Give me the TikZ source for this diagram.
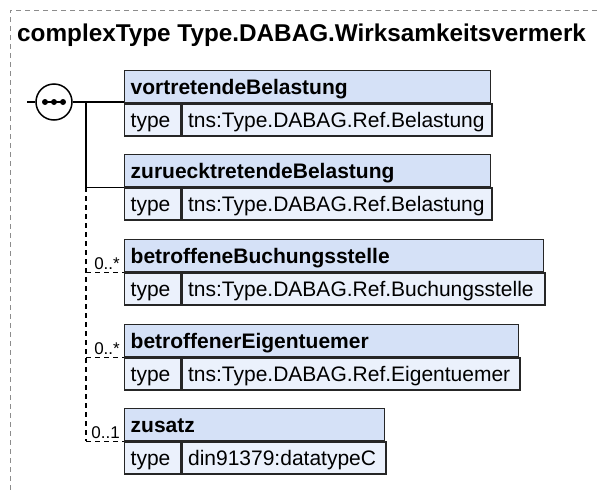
\documentclass[tikz,border=0pt]{standalone}
\usepackage{fontspec}
\setmainfont{Liberation Sans}
\usetikzlibrary{positioning}

\definecolor{hdrblue}{HTML}{D5E1F7}
\definecolor{rowblue}{HTML}{EBF1FC}
\definecolor{framegray}{HTML}{8C8C8C}

\begin{document}
\begin{tikzpicture}[x=1pt, y=-1pt,
  cell/.style={draw=black!85, line width=1.4pt, anchor=north west, minimum height=32pt,
    inner xsep=6pt, inner ysep=0pt, align=left, text height=15pt, text depth=0pt},
  hdr/.style={cell, fill=hdrblue, font=\fontsize{21}{24}\selectfont\bfseries},
  row/.style={cell, fill=rowblue, font=\fontsize{21}{24}\selectfont},
  link/.style={line width=1.5pt},
  opt/.style={line width=1.5pt, dash pattern=on 5pt off 4pt},
  mult/.style={anchor=south east, inner sep=1pt, font=\fontsize{17}{19}\selectfont}]
  \useasboundingbox (0,0) rectangle (597,490);

  % Rahmen
  \draw[framegray, line width=0.8pt, dash pattern=on 5pt off 4pt] (597,10) -- (10,10) -- (10,490);

  % Titel
  \node[anchor=base west, inner sep=0pt, font=\fontsize{24.3}{28}\selectfont\bfseries] (title) at (17,41)
    {complexType Type.DABAG.Wirksamkeitsvermerk};

  % Elemente
  \node[hdr, text width=354pt] (vort) at (124,70) {vortretendeBelastung};
  \node[row, text width=44pt] (vort-t) at (vort.south west) {type};
  \node[row, text width=298pt] (vort-v) at (vort-t.north east) {tns:Type.DABAG.Ref.Belastung};

  \node[hdr, text width=354pt] (zur) at (124,154) {zuruecktretendeBelastung};
  \node[row, text width=44pt] (zur-t) at (zur.south west) {type};
  \node[row, text width=298pt] (zur-v) at (zur-t.north east) {tns:Type.DABAG.Ref.Belastung};

  \node[hdr, text width=407pt] (buch) at (124,239) {betroffeneBuchungsstelle};
  \node[row, text width=44pt] (buch-t) at (buch.south west) {type};
  \node[row, text width=351pt] (buch-v) at (buch-t.north east) {tns:Type.DABAG.Ref.Buchungsstelle};

  \node[hdr, text width=382pt] (eig) at (124,324) {betroffenerEigentuemer};
  \node[row, text width=44pt] (eig-t) at (eig.south west) {type};
  \node[row, text width=326pt] (eig-v) at (eig-t.north east) {tns:Type.DABAG.Ref.Eigentuemer};

  \node[hdr, text width=248pt] (zus) at (124,408) {zusatz};
  \node[row, text width=44pt] (zus-t) at (zus.south west) {type};
  \node[row, text width=192pt] (zus-v) at (zus-t.north east) {din91379:datatypeC};

  % Sequenz
  \node[circle, draw, line width=1.5pt, fill=white, minimum size=36pt, inner sep=0pt] (seq) at (54,102) {};
  \draw[line width=1.5pt] (45,102) -- (63,102);
  \foreach \x in {45,54,63}
    \fill (\x,102) circle (3pt);
  \coordinate (seqin) at (27,102);
  \coordinate (trunk) at (86,102);

  % Verbindungen
  \draw[link] (seqin) -- (seq.west);
  \draw[link] (seq.east) -- (seq.east -| vort.south west);
  \draw[link] (trunk) |- (zur.south west);
  \draw[opt] (zur.south west -| trunk) -- (zus.south west -| trunk);
  \draw[opt] (buch.south west -| trunk) -- (buch.south west);
  \draw[opt] (eig.south west -| trunk) -- (eig.south west);
  \draw[opt] (zus.south west -| trunk) -- (zus.south west);

  % Kardinalitaeten
  \node[mult] (buch-m) at ([xshift=-3pt, yshift=2pt]buch.south west) {0..*};
  \node[mult] (eig-m) at ([xshift=-3pt, yshift=2pt]eig.south west) {0..*};
  \node[mult] (zus-m) at ([xshift=-3pt, yshift=2pt]zus.south west) {0..1};
\end{tikzpicture}
\end{document}
